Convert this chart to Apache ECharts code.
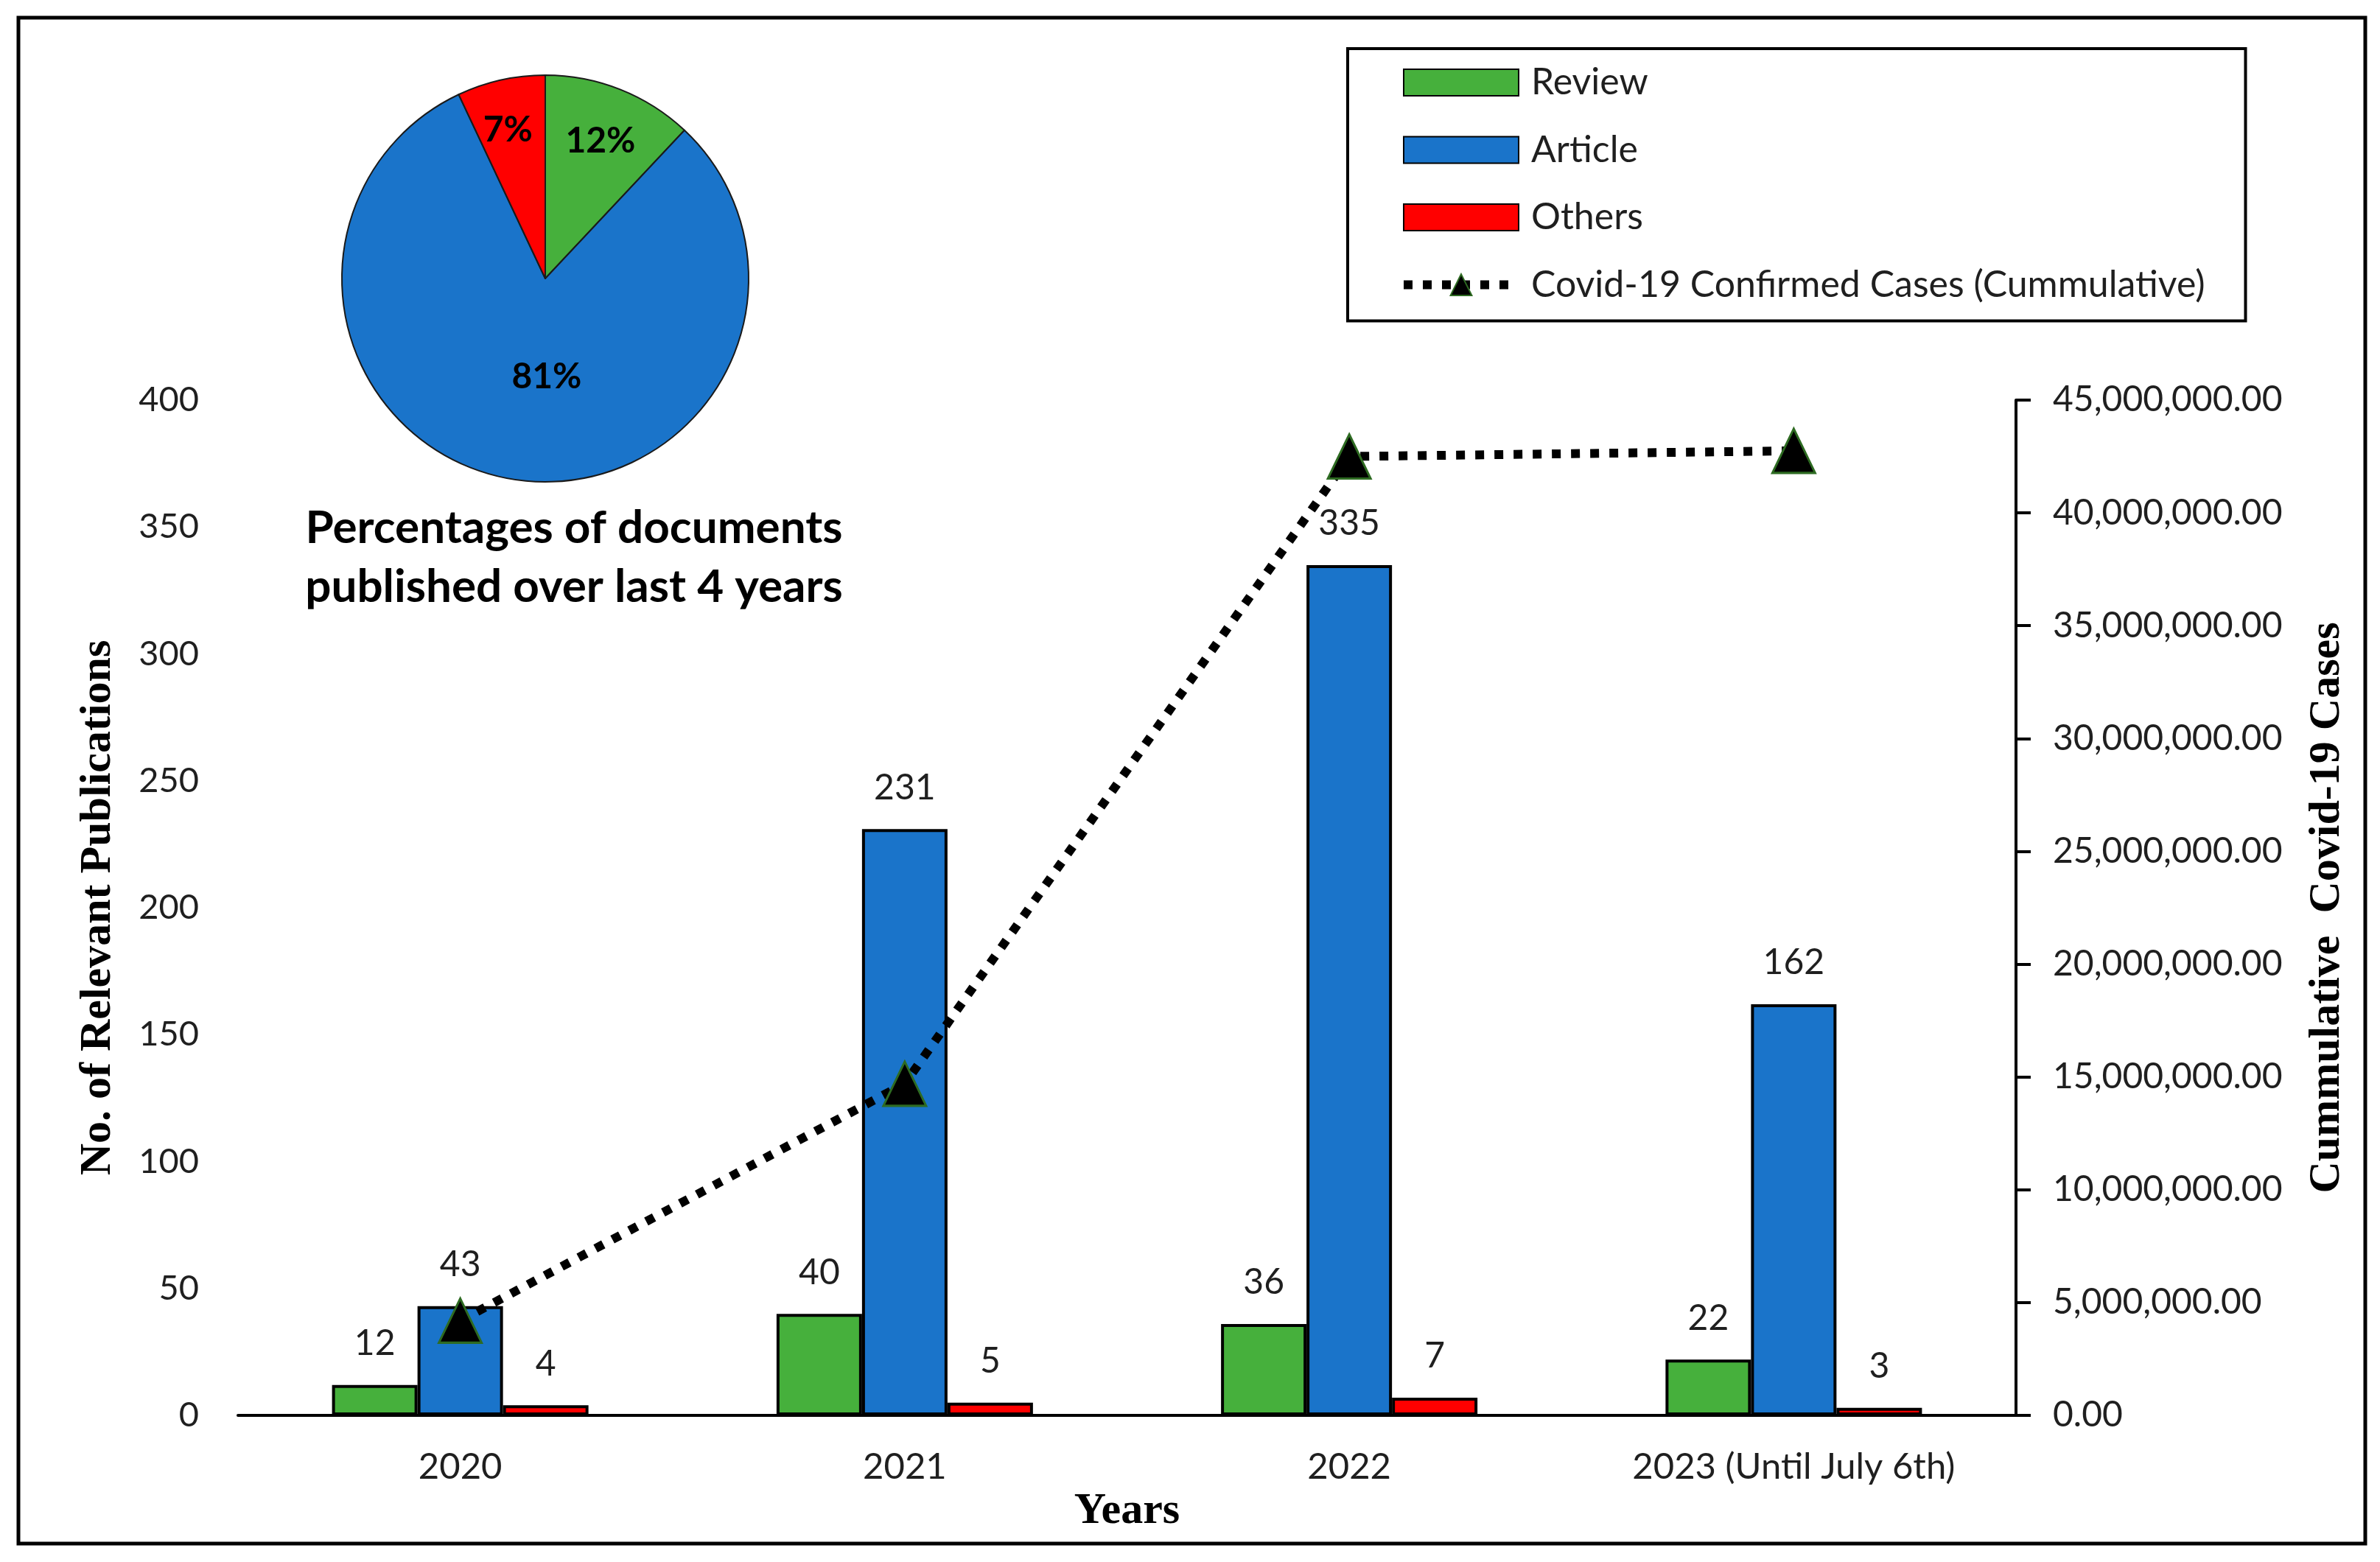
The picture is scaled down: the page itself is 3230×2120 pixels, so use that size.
<!DOCTYPE html>
<html>
<head>
<meta charset="utf-8">
<script src="https://cdn.jsdelivr.net/npm/echarts@6/dist/echarts.min.js"></script>
<style>
html,body{margin:0;padding:0;background:#fff;}
#chart{width:3230px;height:2120px;}
</style>
</head>
<body>
<div id="chart"></div>
<script>
// ---- data ----
const years = ['2020', '2021', '2022', '2023 (Until July 6th)'];
const review = [12, 40, 36, 22];
const article = [43, 231, 335, 162];
const others = [4, 5, 7, 3];
const covidCases = [4200000, 14700000, 42500000, 42750000];
const pieNames = ['Review', 'Article', 'Others'];
const pieShares = [12, 81, 7];
const leftAxis = {min: 0, max: 400, interval: 50};
const rightAxis = {min: 0, max: 45000000, interval: 5000000};
const lineName = 'Covid-19 Confirmed Cases (Cummulative)';

// ---- styles ----
const GREEN = '#46B03C', BLUE = '#1A74CA', RED = '#FF0000';
const SANS = 'Lato';
const SERIF = 'Liberation Serif';
const TXT = '#1f1f1f';

const chart = echarts.init(document.getElementById('chart'));

const barLabel = {
  show: true, position: 'top', distance: 32,
  fontFamily: SANS, fontSize: 48, lineHeight: 48, color: TXT
};
const barBorder = {borderColor: '#000', borderWidth: 4};

const pieOffsets = [[23, -55], [24, -6], [-20, -64]];

const option = {
  backgroundColor: '#fff',
  animation: false,
  grid: {left: 323, right: 494, top: 543, bottom: 199, containLabel: false},
  legend: {
    orient: 'vertical', left: 1829, top: 66,
    padding: [21, 55, 24, 70],
    borderColor: '#000', borderWidth: 4,
    itemWidth: 156, itemHeight: 36, itemGap: 41.5,
    textStyle: {fontFamily: SANS, fontSize: 50, lineHeight: 48, color: TXT, padding: [0, 0, 0, 12]},
    data: [
      {name: 'Review', icon: 'rect'},
      {name: 'Article', icon: 'rect'},
      {name: 'Others', icon: 'rect'},
      {name: lineName, lineStyle: {width: 12, type: [12, 14], color: '#000', cap: 'butt'}}
    ]
  },
  xAxis: {
    type: 'category', data: years,
    name: 'Years', nameLocation: 'middle', nameGap: 100,
    nameTextStyle: {fontFamily: SERIF, fontWeight: 'bold', fontSize: 60, color: '#000'},
    axisLine: {show: true, lineStyle: {color: '#000', width: 4}},
    axisTick: {show: false},
    axisLabel: {fontFamily: SANS, fontSize: 49, lineHeight: 49, color: TXT, margin: 46}
  },
  yAxis: [
    {
      type: 'value', position: 'left',
      min: leftAxis.min, max: leftAxis.max, interval: leftAxis.interval,
      name: 'No. of Relevant Publications', nameLocation: 'middle', nameRotate: 90, nameGap: 160,
      nameTextStyle: {fontFamily: SERIF, fontWeight: 'bold', fontSize: 60, color: '#000'},
      axisLine: {show: false}, axisTick: {show: false}, splitLine: {show: false},
      axisLabel: {fontFamily: SANS, fontSize: 47, color: TXT, margin: 53}
    },
    {
      type: 'value', position: 'right',
      min: rightAxis.min, max: rightAxis.max, interval: rightAxis.interval,
      name: 'Cummulative  Covid-19 Cases', nameLocation: 'middle', nameRotate: 90, nameGap: 392,
      nameTextStyle: {fontFamily: SERIF, fontWeight: 'bold', fontSize: 60, color: '#000'},
      axisLine: {show: true, lineStyle: {color: '#000', width: 4}},
      axisTick: {show: true, inside: false, length: 20, lineStyle: {color: '#000', width: 4}},
      splitLine: {show: false},
      axisLabel: {
        fontFamily: SANS, fontSize: 48, color: TXT, margin: 50,
        formatter: v => v.toLocaleString('en-US', {minimumFractionDigits: 2, maximumFractionDigits: 2})
      }
    }
  ],
  graphic: [
    {
      type: 'rect', z: 100, silent: true,
      shape: {x: 25, y: 24, width: 3185, height: 2071},
      style: {fill: 'none', stroke: '#000', lineWidth: 5}
    },
    {
      type: 'text', z: 100, x: 779, y: 677,
      style: {
        text: 'Percentages of documents\npublished over last 4 years',
        fontFamily: SANS, fontWeight: 'bold', fontSize: 62, lineHeight: 80,
        fill: '#000', textAlign: 'center', textVerticalAlign: 'top'
      }
    }
  ],
  series: [
    {name: 'Review', type: 'bar', data: review, yAxisIndex: 0, barWidth: 116, barGap: '0%',
     itemStyle: Object.assign({color: GREEN}, barBorder), label: barLabel},
    {name: 'Article', type: 'bar', data: article, yAxisIndex: 0, barWidth: 116, barGap: '0%',
     itemStyle: Object.assign({color: BLUE}, barBorder), label: barLabel},
    {name: 'Others', type: 'bar', data: others, yAxisIndex: 0, barWidth: 116, barGap: '0%',
     itemStyle: Object.assign({color: RED}, barBorder), label: barLabel},
    {
      name: lineName, type: 'line', data: covidCases, yAxisIndex: 1, z: 10,
      symbol: 'triangle', symbolSize: [58, 60],
      itemStyle: {color: '#000', borderColor: '#2E6B22', borderWidth: 3},
      lineStyle: {color: '#000', width: 12, type: [12, 14], cap: 'butt'}
    },
    {
      name: 'Share', type: 'pie', center: [740, 378], radius: 276,
      startAngle: 90, clockwise: true, z: 20,
      data: pieNames.map((n, i) => ({name: n, value: pieShares[i]})),
      itemStyle: {
        borderColor: '#1a1a1a', borderWidth: 2,
        color: p => [GREEN, BLUE, RED][p.dataIndex]
      },
      label: {
        show: true, position: 'inside', formatter: '{c}%',
        fontFamily: SANS, fontWeight: 'bold', fontSize: 48, color: '#000'
      },
      labelLine: {show: false},
      labelLayout: p => ({dx: pieOffsets[p.dataIndex][0], dy: pieOffsets[p.dataIndex][1]}),
      emphasis: {disabled: true}
    }
  ]
};
chart.setOption(option);
</script>
</body>
</html>
